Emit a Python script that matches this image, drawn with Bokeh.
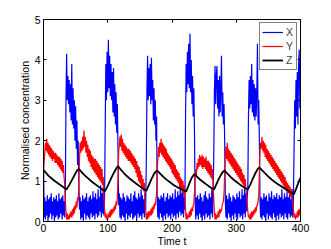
from bokeh.plotting import figure
from bokeh.models import LinearAxis, Legend, LegendItem, Range1d
from bokeh.embed import file_html
from bokeh.resources import INLINE

# ---- data ----
t_xy = list(range(0, 401))

x_vals = [
    1.6, 0.1, 0.6, 0.05, 0.5, 0.15, 0.65, 0.0, 0.55, 0.1, 0.6, 0.2, 0.7, 0.05, 0.5, 0.15, 0.6, 0.0, 0.55, 0.1,
    0.65, 0.15, 0.5, 0.05, 0.7, 0.1, 0.55, 0.2, 0.6, 0.05, 0.65, 0.15, 0.5, 0.1, 0.7, 3.0, 4.15, 3.0, 3.6, 2.9,
    3.5, 2.7, 3.4, 2.5, 3.9, 2.4, 3.3, 2.3, 3.0, 2.0, 2.85, 1.8, 2.5, 1.4, 2.0, 1.0, 0.3, 0.6, 0.05, 0.5,
    0.1, 0.65, 0.0, 0.55, 0.2, 0.6, 0.05, 0.7, 0.15, 0.5, 0.1, 0.6, 0.05, 0.65, 0.2, 0.55, 0.1, 0.75, 0.15, 0.6,
    0.05, 0.7, 0.2, 0.55, 0.1, 0.8, 0.15, 0.6, 0.25, 0.9, 0.1, 0.7, 0.2, 0.85, 0.15, 0.6, 2.2, 3.9, 3.0, 4.2,
    3.2, 4.5, 3.3, 4.1, 3.1, 3.9, 3.0, 3.7, 2.7, 3.8, 2.6, 3.4, 2.4, 3.2, 2.2, 2.9, 1.7, 0.4, 0.7, 0.1,
    0.6, 0.05, 0.55, 0.15, 0.7, 0.1, 0.6, 0.0, 0.5, 0.2, 0.65, 0.05, 0.6, 0.15, 0.55, 0.1, 0.7, 0.2, 0.5, 0.05,
    0.65, 0.1, 0.75, 0.15, 0.6, 0.0, 0.55, 0.2, 0.7, 0.1, 0.6, 0.15, 0.8, 0.05, 0.65, 0.2, 0.55, 0.1, 0.7, 0.3,
    1.5, 3.2, 4.1, 3.0, 3.8, 3.1, 3.9, 2.9, 4.05, 3.0, 3.5, 2.5, 3.3, 2.4, 3.0, 2.0, 2.6, 0.5, 0.1, 0.6,
    0.05, 0.55, 0.2, 0.65, 0.1, 0.6, 0.0, 0.7, 0.15, 0.5, 0.05, 0.6, 0.2, 0.7, 0.1, 0.55, 0.15, 0.65, 0.05, 0.6,
    0.2, 0.7, 0.1, 0.55, 0.15, 0.8, 0.05, 0.6, 0.2, 0.75, 0.1, 0.65, 0.25, 0.9, 0.15, 0.7, 0.2, 0.8, 0.1, 0.6,
    0.3, 2.4, 3.9, 3.2, 4.2, 3.4, 4.4, 3.3, 4.65, 3.2, 4.0, 2.9, 3.6, 2.6, 3.3, 2.2, 0.5, 0.05, 0.6, 0.15,
    0.65, 0.05, 0.55, 0.2, 0.7, 0.1, 0.6, 0.0, 0.5, 0.15, 0.65, 0.05, 0.75, 0.2, 0.6, 0.1, 0.55, 0.15, 0.7, 0.05,
    0.6, 0.2, 0.8, 0.1, 0.7, 1.6, 3.2, 3.85, 2.9, 3.6, 3.85, 2.8, 3.5, 2.6, 3.6, 2.7, 3.3, 4.1, 2.6, 3.2,
    2.4, 2.9, 2.0, 0.5, 0.1, 0.65, 0.05, 0.55, 0.2, 0.7, 0.1, 0.6, 0.0, 0.5, 0.15, 0.65, 0.05, 0.6, 0.2, 0.55,
    0.1, 0.7, 0.05, 0.6, 0.2, 0.75, 0.1, 0.55, 0.15, 0.8, 0.05, 0.65, 0.2, 0.9, 0.1, 0.7, 0.25, 0.6, 0.8, 2.6,
    3.5, 2.8, 3.6, 2.9, 3.9, 2.7, 3.5, 2.6, 3.4, 2.5, 3.3, 2.6, 3.2, 4.4, 2.4, 3.0, 2.0, 0.5, 0.1, 0.6,
    0.05, 0.55, 0.15, 0.7, 0.1, 0.6, 0.0, 0.65, 0.2, 0.5, 0.05, 0.7, 0.15, 0.6, 0.1, 0.75, 0.05, 0.55, 0.2, 0.65,
    0.1, 0.6, 0.0, 0.7, 0.15, 0.55, 0.05, 0.65, 0.2, 0.6, 0.1, 0.8, 0.15, 0.55, 0.05, 0.7, 0.2, 0.6, 0.1, 0.75,
    0.05, 0.6, 0.2, 0.7, 0.1, 0.55, 0.15, 0.8, 0.1, 0.6, 1.8, 3.0, 2.3, 3.5, 2.6, 3.7, 2.4, 3.9, 4.25, 2.8,
    3.9,
]

y_vals = [
    1.25, 1.5, 1.7, 1.95, 1.75, 2.05, 1.7, 1.95, 1.65, 1.9, 1.6, 1.85, 1.55, 1.8, 1.5, 1.75, 1.55, 1.7, 1.45, 1.7,
    1.45, 1.65, 1.4, 1.6, 1.35, 1.6, 1.3, 1.55, 1.25, 1.5, 1.2, 1.4, 1.1, 0.9, 0.5, 0.25, 0.05, 0.2, 0.05, 0.15,
    0.05, 0.2, 0.1, 0.25, 0.1, 0.3, 0.15, 0.35, 0.2, 0.4, 0.3, 0.5, 0.35, 0.6, 0.5, 0.9, 1.5, 1.95, 1.7, 2.0,
    1.75, 2.1, 1.8, 2.25, 1.85, 2.1, 1.7, 2.0, 1.6, 1.9, 1.5, 1.8, 1.45, 1.75, 1.35, 1.65, 1.3, 1.6, 1.25, 1.55,
    1.2, 1.55, 1.15, 1.5, 1.1, 1.45, 1.05, 1.4, 1.0, 1.35, 0.95, 1.3, 0.9, 1.1, 0.6, 0.3, 0.1, 0.2, 0.05, 0.15,
    0.05, 0.2, 0.1, 0.25, 0.1, 0.3, 0.15, 0.3, 0.2, 0.35, 0.25, 0.4, 0.3, 0.5, 0.4, 0.6, 1.1, 1.7, 1.9, 2.1,
    1.85, 2.15, 1.75, 2.05, 1.7, 1.95, 1.65, 1.9, 1.6, 1.85, 1.55, 1.8, 1.5, 1.8, 1.5, 1.75, 1.45, 1.7, 1.4, 1.65,
    1.35, 1.6, 1.3, 1.55, 1.2, 1.5, 1.1, 1.4, 1.0, 1.35, 0.95, 1.25, 0.85, 1.15, 0.8, 1.05, 0.75, 0.95, 0.6, 0.3,
    0.05, 0.2, 0.05, 0.25, 0.1, 0.25, 0.15, 0.3, 0.15, 0.35, 0.2, 0.4, 0.3, 0.45, 0.4, 0.55, 0.7, 1.3, 1.55, 1.85,
    1.6, 1.95, 1.7, 2.05, 1.65, 1.95, 1.6, 1.9, 1.55, 1.85, 1.5, 1.8, 1.45, 1.7, 1.4, 1.65, 1.35, 1.6, 1.3, 1.55,
    1.2, 1.5, 1.15, 1.45, 1.1, 1.4, 1.05, 1.3, 1.0, 1.25, 0.95, 1.2, 0.85, 1.1, 0.8, 1.05, 0.7, 1.0, 0.65, 0.9,
    0.6, 0.3, 0.05, 0.2, 0.05, 0.15, 0.1, 0.25, 0.1, 0.3, 0.15, 0.35, 0.25, 0.4, 0.45, 0.7, 1.05, 1.3, 1.15, 1.45,
    1.3, 1.55, 1.35, 1.65, 1.4, 1.6, 1.35, 1.65, 1.3, 1.6, 1.35, 1.55, 1.3, 1.6, 1.25, 1.5, 1.2, 1.5, 1.15, 1.45,
    1.1, 1.4, 1.05, 1.3, 0.9, 0.55, 0.2, 0.05, 0.2, 0.05, 0.15, 0.1, 0.25, 0.1, 0.3, 0.2, 0.3, 0.25, 0.4, 0.45,
    0.5, 0.7, 1.2, 1.65, 1.85, 1.55, 1.95, 1.5, 1.8, 1.45, 1.75, 1.4, 1.7, 1.35, 1.65, 1.3, 1.6, 1.25, 1.55, 1.2,
    1.5, 1.15, 1.45, 1.1, 1.4, 1.05, 1.35, 1.0, 1.3, 0.95, 1.2, 0.9, 1.15, 0.85, 1.05, 0.8, 0.7, 0.45, 0.25, 0.1,
    0.15, 0.05, 0.2, 0.05, 0.25, 0.1, 0.25, 0.15, 0.3, 0.2, 0.35, 0.25, 0.4, 0.4, 0.5, 0.65, 1.2, 1.75, 1.95, 1.8,
    2.1, 1.75, 2.0, 1.7, 1.95, 1.6, 1.9, 1.55, 1.8, 1.5, 1.75, 1.45, 1.7, 1.4, 1.65, 1.35, 1.6, 1.3, 1.55, 1.25,
    1.5, 1.2, 1.45, 1.15, 1.4, 1.1, 1.35, 1.05, 1.3, 1.0, 1.25, 0.95, 1.2, 0.9, 1.15, 0.85, 1.1, 0.8, 1.0, 0.75,
    0.95, 0.7, 0.9, 0.65, 0.85, 0.6, 0.8, 0.55, 0.5, 0.3, 0.1, 0.2, 0.05, 0.15, 0.1, 0.25, 0.1, 0.3, 0.15, 0.25,
    0.35,
]

t_z = [0, 8, 16, 24, 30, 35.7, 40, 45, 50, 53, 55.4, 60, 65, 70, 75, 80, 85, 90, 95.8,
       100, 105, 110, 114, 116, 120, 125, 130, 135, 140, 145, 150, 155, 160,
       164, 168, 172, 175, 177, 182, 187, 192, 197, 202, 207, 212, 217, 222,
       225, 228, 231, 234, 235.3, 240, 245, 250, 255, 260, 265.3,
       269, 273, 277, 280, 282, 287, 292, 297, 302, 307, 312, 317.7,
       322, 326, 330, 333, 335.8, 340, 345, 350, 355, 360, 365, 370, 375, 380, 385, 389.6,
       393, 396, 400]
z_vals = [1.27, 1.13, 1.02, 0.93, 0.86, 0.79, 0.9, 1.05, 1.2, 1.28, 1.30, 1.21, 1.13, 1.06, 0.99, 0.93, 0.87, 0.81, 0.75,
          0.88, 1.06, 1.22, 1.33, 1.37, 1.29, 1.20, 1.12, 1.05, 0.99, 0.93, 0.87, 0.81, 0.76,
          0.9, 1.05, 1.18, 1.24, 1.26, 1.18, 1.10, 1.03, 0.97, 0.91, 0.86, 0.82, 0.78, 0.74,
          0.86, 0.98, 1.09, 1.16, 1.17, 1.09, 1.02, 0.96, 0.90, 0.84, 0.79,
          0.92, 1.06, 1.18, 1.24, 1.26, 1.17, 1.09, 1.02, 0.96, 0.90, 0.85, 0.79,
          0.92, 1.07, 1.20, 1.29, 1.34, 1.27, 1.19, 1.11, 1.04, 0.98, 0.92, 0.87, 0.82, 0.77, 0.72, 0.67,
          0.80, 0.93, 1.09]

x_ticks = [0, 100, 200, 300, 400]
y_ticks = [0, 1, 2, 3, 4, 5]
series_names = ["X", "Y", "Z"]
x_label = "Time t"
y_label = "Normalised concentration"

FONT = "Liberation Sans"

p = figure(width=331, height=249, output_backend="svg", toolbar_location=None,
           x_range=Range1d(0, 400), y_range=Range1d(0, 5),
           min_border_left=43, min_border_right=31, min_border_top=19, min_border_bottom=28)
p.grid.visible = False
p.outline_line_color = "black"
p.outline_line_width = 1
p.background_fill_color = "white"
p.border_fill_color = "white"

rx = p.line(t_xy, x_vals, line_color="#0000ff", line_width=1.2)
ry = p.line(t_xy, y_vals, line_color="#ff0000", line_width=1.2)
rz = p.line(t_z, z_vals, line_color="black", line_width=1.8)

for ax in (p.xaxis[0], p.yaxis[0]):
    ax.major_tick_in = 3
    ax.major_tick_out = 0
    ax.minor_tick_line_color = None
    ax.axis_line_color = "black"
    ax.major_tick_line_color = "black"
    ax.major_label_text_font = FONT
    ax.major_label_text_font_size = "10.5px"
    ax.major_label_text_color = "black"
    ax.axis_label_text_font = FONT
    ax.axis_label_text_font_size = "10.5px"
    ax.axis_label_text_font_style = "normal"
    ax.axis_label_text_color = "black"
p.xaxis.ticker = x_ticks
p.yaxis.ticker = y_ticks
p.xaxis.major_label_standoff = 2
p.yaxis.major_label_standoff = 3
p.xaxis.axis_label = x_label
p.xaxis.axis_label_standoff = 0
p.yaxis.axis_label = y_label
p.yaxis.axis_label_standoff = 1

top = LinearAxis(ticker=x_ticks, major_tick_in=3, major_tick_out=0, minor_tick_line_color=None,
                 major_label_text_color=None, major_label_standoff=0, axis_line_color="black")
right = LinearAxis(ticker=y_ticks, major_tick_in=3, major_tick_out=0, minor_tick_line_color=None,
                   major_label_text_color=None, major_label_standoff=0, axis_line_color="black")
p.add_layout(top, "above")
p.add_layout(right, "right")

legend = Legend(items=[LegendItem(label=series_names[0], renderers=[rx]),
                       LegendItem(label=series_names[1], renderers=[ry]),
                       LegendItem(label=series_names[2], renderers=[rz])],
                location="top_right", margin=3, padding=2, spacing=0,
                glyph_width=21, glyph_height=14, label_height=14, label_width=8, label_standoff=3,
                label_text_font=FONT, label_text_font_size="10.5px",
                border_line_color="black", border_line_width=1,
                background_fill_color="white", background_fill_alpha=1)
p.add_layout(legend)

open("out.html", "w").write(file_html(p, INLINE))
